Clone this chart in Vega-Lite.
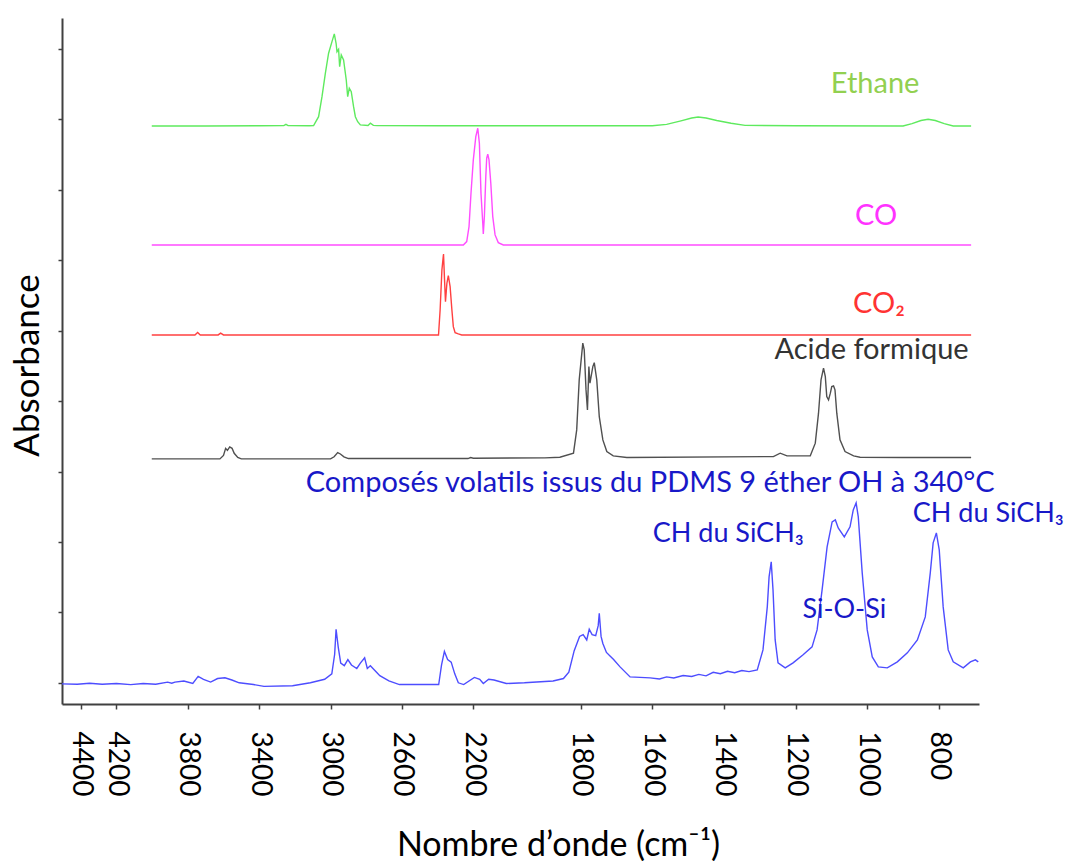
{
  "$schema": "https://vega.github.io/schema/vega-lite/v6.json",
  "width": 917,
  "height": 686,
  "autosize": "none",
  "padding": {"left": 62, "top": 18, "right": 92, "bottom": 157},
  "background": "white",
  "config": {"view": {"stroke": null}, "font": "Lato, 'Noto Sans', sans-serif"},
  "datasets": {
    "spectra": [
      {"s":"Ethane","wn":4002,"a":7.907},{"s":"Ethane","wn":3700,"a":7.907},{"s":"Ethane","wn":3400,"a":7.91},{"s":"Ethane","wn":3262,"a":7.912},{"s":"Ethane","wn":3250,"a":7.93},{"s":"Ethane","wn":3238,"a":7.912},{"s":"Ethane","wn":3120,"a":7.91},{"s":"Ethane","wn":3095,"a":7.912},{"s":"Ethane","wn":3067,"a":8.039},{"s":"Ethane","wn":3048,"a":8.323},{"s":"Ethane","wn":3029,"a":8.656},{"s":"Ethane","wn":3011,"a":8.94},{"s":"Ethane","wn":2992,"a":9.104},{"s":"Ethane","wn":2979,"a":9.214},{"s":"Ethane","wn":2969,"a":9.081},{"s":"Ethane","wn":2964,"a":8.962},{"s":"Ethane","wn":2955,"a":8.996},{"s":"Ethane","wn":2949,"a":8.749},{"s":"Ethane","wn":2940,"a":8.915},{"s":"Ethane","wn":2927,"a":8.844},{"s":"Ethane","wn":2912,"a":8.56},{"s":"Ethane","wn":2904,"a":8.323},{"s":"Ethane","wn":2895,"a":8.443},{"s":"Ethane","wn":2884,"a":8.394},{"s":"Ethane","wn":2871,"a":8.181},{"s":"Ethane","wn":2861,"a":8.039},{"s":"Ethane","wn":2848,"a":7.968},{"s":"Ethane","wn":2833,"a":7.922},{"s":"Ethane","wn":2790,"a":7.915},{"s":"Ethane","wn":2777,"a":7.946},{"s":"Ethane","wn":2760,"a":7.915},{"s":"Ethane","wn":2740,"a":7.912},{"s":"Ethane","wn":2400,"a":7.91},{"s":"Ethane","wn":2000,"a":7.91},{"s":"Ethane","wn":1600,"a":7.91},{"s":"Ethane","wn":1560,"a":7.93},{"s":"Ethane","wn":1520,"a":7.98},{"s":"Ethane","wn":1490,"a":8.02},{"s":"Ethane","wn":1472,"a":8.035},{"s":"Ethane","wn":1450,"a":8.02},{"s":"Ethane","wn":1420,"a":7.985},{"s":"Ethane","wn":1380,"a":7.945},{"s":"Ethane","wn":1341,"a":7.915},{"s":"Ethane","wn":1200,"a":7.91},{"s":"Ethane","wn":900,"a":7.907},{"s":"Ethane","wn":875,"a":7.94},{"s":"Ethane","wn":850,"a":7.985},{"s":"Ethane","wn":830,"a":8.003},{"s":"Ethane","wn":810,"a":7.985},{"s":"Ethane","wn":785,"a":7.94},{"s":"Ethane","wn":760,"a":7.907},{"s":"Ethane","wn":710,"a":7.907},

      {"s":"CO","wn":4002,"a":6.218},{"s":"CO","wn":2256,"a":6.218},{"s":"CO","wn":2237,"a":6.265},{"s":"CO","wn":2224,"a":6.478},{"s":"CO","wn":2213,"a":6.952},{"s":"CO","wn":2200,"a":7.425},{"s":"CO","wn":2186,"a":7.756},{"s":"CO","wn":2175,"a":7.875},{"s":"CO","wn":2166,"a":7.662},{"s":"CO","wn":2157,"a":6.952},{"s":"CO","wn":2147,"a":6.526},{"s":"CO","wn":2144,"a":6.374},{"s":"CO","wn":2138,"a":6.62},{"s":"CO","wn":2130,"a":7.188},{"s":"CO","wn":2125,"a":7.449},{"s":"CO","wn":2119,"a":7.506},{"s":"CO","wn":2112,"a":7.425},{"s":"CO","wn":2102,"a":7.094},{"s":"CO","wn":2091,"a":6.62},{"s":"CO","wn":2078,"a":6.36},{"s":"CO","wn":2060,"a":6.251},{"s":"CO","wn":2032,"a":6.218},{"s":"CO","wn":710,"a":6.218},

      {"s":"CO2","wn":4002,"a":4.94},{"s":"CO2","wn":3760,"a":4.94},{"s":"CO2","wn":3745,"a":4.975},{"s":"CO2","wn":3730,"a":4.94},{"s":"CO2","wn":3630,"a":4.94},{"s":"CO2","wn":3616,"a":4.965},{"s":"CO2","wn":3600,"a":4.94},{"s":"CO2","wn":2395,"a":4.94},{"s":"CO2","wn":2386,"a":5.295},{"s":"CO2","wn":2376,"a":5.863},{"s":"CO2","wn":2367,"a":6.09},{"s":"CO2","wn":2362,"a":5.768},{"s":"CO2","wn":2356,"a":5.413},{"s":"CO2","wn":2348,"a":5.674},{"s":"CO2","wn":2340,"a":5.782},{"s":"CO2","wn":2330,"a":5.626},{"s":"CO2","wn":2320,"a":5.295},{"s":"CO2","wn":2312,"a":5.058},{"s":"CO2","wn":2302,"a":4.973},{"s":"CO2","wn":2284,"a":4.954},{"s":"CO2","wn":2265,"a":4.94},{"s":"CO2","wn":710,"a":4.94},

      {"s":"Formic","wn":4002,"a":3.18},{"s":"Formic","wn":3620,"a":3.18},{"s":"Formic","wn":3600,"a":3.23},{"s":"Formic","wn":3588,"a":3.33},{"s":"Formic","wn":3578,"a":3.3},{"s":"Formic","wn":3565,"a":3.35},{"s":"Formic","wn":3552,"a":3.33},{"s":"Formic","wn":3540,"a":3.26},{"s":"Formic","wn":3520,"a":3.2},{"s":"Formic","wn":3500,"a":3.18},{"s":"Formic","wn":3000,"a":3.18},{"s":"Formic","wn":2980,"a":3.21},{"s":"Formic","wn":2960,"a":3.27},{"s":"Formic","wn":2945,"a":3.25},{"s":"Formic","wn":2925,"a":3.21},{"s":"Formic","wn":2900,"a":3.185},{"s":"Formic","wn":2230,"a":3.185},{"s":"Formic","wn":2215,"a":3.2},{"s":"Formic","wn":2200,"a":3.19},{"s":"Formic","wn":1900,"a":3.195},{"s":"Formic","wn":1858,"a":3.204},{"s":"Formic","wn":1820,"a":3.261},{"s":"Formic","wn":1811,"a":3.592},{"s":"Formic","wn":1804,"a":4.302},{"s":"Formic","wn":1794,"a":4.823},{"s":"Formic","wn":1790,"a":4.727},{"s":"Formic","wn":1785,"a":4.16},{"s":"Formic","wn":1781,"a":3.876},{"s":"Formic","wn":1777,"a":4.49},{"s":"Formic","wn":1774,"a":4.255},{"s":"Formic","wn":1766,"a":4.49},{"s":"Formic","wn":1762,"a":4.547},{"s":"Formic","wn":1755,"a":4.302},{"s":"Formic","wn":1748,"a":3.781},{"s":"Formic","wn":1738,"a":3.45},{"s":"Formic","wn":1727,"a":3.284},{"s":"Formic","wn":1709,"a":3.223},{"s":"Formic","wn":1671,"a":3.199},{"s":"Formic","wn":1262,"a":3.213},{"s":"Formic","wn":1243,"a":3.261},{"s":"Formic","wn":1224,"a":3.223},{"s":"Formic","wn":1159,"a":3.223},{"s":"Formic","wn":1145,"a":3.403},{"s":"Formic","wn":1136,"a":3.829},{"s":"Formic","wn":1129,"a":4.302},{"s":"Formic","wn":1122,"a":4.468},{"s":"Formic","wn":1117,"a":4.348},{"s":"Formic","wn":1113,"a":4.064},{"s":"Formic","wn":1108,"a":4.018},{"s":"Formic","wn":1103,"a":4.113},{"s":"Formic","wn":1099,"a":4.206},{"s":"Formic","wn":1094,"a":4.216},{"s":"Formic","wn":1090,"a":4.16},{"s":"Formic","wn":1085,"a":3.829},{"s":"Formic","wn":1076,"a":3.45},{"s":"Formic","wn":1062,"a":3.284},{"s":"Formic","wn":1038,"a":3.223},{"s":"Formic","wn":1020,"a":3.204},{"s":"Formic","wn":900,"a":3.2},{"s":"Formic","wn":710,"a":3.2},

      {"s":"PDMS","wn":4505,"a":-0.014},{"s":"PDMS","wn":4420,"a":-0.02},{"s":"PDMS","wn":4350,"a":-0.005},{"s":"PDMS","wn":4280,"a":-0.02},{"s":"PDMS","wn":4200,"a":-0.01},{"s":"PDMS","wn":4120,"a":-0.025},{"s":"PDMS","wn":4050,"a":-0.01},{"s":"PDMS","wn":3980,"a":-0.02},{"s":"PDMS","wn":3913,"a":0.011},{"s":"PDMS","wn":3890,"a":-0.005},{"s":"PDMS","wn":3872,"a":0.011},{"s":"PDMS","wn":3822,"a":0.027},{"s":"PDMS","wn":3772,"a":-0.009},{"s":"PDMS","wn":3742,"a":0.092},{"s":"PDMS","wn":3712,"a":0.051},{"s":"PDMS","wn":3672,"a":0.011},{"s":"PDMS","wn":3633,"a":0.062},{"s":"PDMS","wn":3592,"a":0.072},{"s":"PDMS","wn":3553,"a":0.041},{"s":"PDMS","wn":3512,"a":0.001},{"s":"PDMS","wn":3432,"a":-0.024},{"s":"PDMS","wn":3373,"a":-0.05},{"s":"PDMS","wn":3213,"a":-0.04},{"s":"PDMS","wn":3113,"a":0.001},{"s":"PDMS","wn":3033,"a":0.051},{"s":"PDMS","wn":2993,"a":0.128},{"s":"PDMS","wn":2977,"a":0.406},{"s":"PDMS","wn":2969,"a":0.761},{"s":"PDMS","wn":2957,"a":0.508},{"s":"PDMS","wn":2943,"a":0.28},{"s":"PDMS","wn":2923,"a":0.244},{"s":"PDMS","wn":2903,"a":0.331},{"s":"PDMS","wn":2883,"a":0.254},{"s":"PDMS","wn":2853,"a":0.204},{"s":"PDMS","wn":2833,"a":0.28},{"s":"PDMS","wn":2809,"a":0.356},{"s":"PDMS","wn":2794,"a":0.204},{"s":"PDMS","wn":2777,"a":0.244},{"s":"PDMS","wn":2753,"a":0.179},{"s":"PDMS","wn":2724,"a":0.102},{"s":"PDMS","wn":2673,"a":0.027},{"s":"PDMS","wn":2614,"a":-0.024},{"s":"PDMS","wn":2394,"a":-0.024},{"s":"PDMS","wn":2378,"a":0.254},{"s":"PDMS","wn":2362,"a":0.447},{"s":"PDMS","wn":2344,"a":0.331},{"s":"PDMS","wn":2324,"a":0.295},{"s":"PDMS","wn":2304,"a":0.128},{"s":"PDMS","wn":2284,"a":0.001},{"s":"PDMS","wn":2254,"a":-0.024},{"s":"PDMS","wn":2194,"a":0.077},{"s":"PDMS","wn":2164,"a":0.051},{"s":"PDMS","wn":2144,"a":-0.009},{"s":"PDMS","wn":2114,"a":0.051},{"s":"PDMS","wn":2084,"a":0.041},{"s":"PDMS","wn":2015,"a":-0.009},{"s":"PDMS","wn":1957,"a":0.001},{"s":"PDMS","wn":1877,"a":0.027},{"s":"PDMS","wn":1848,"a":0.062},{"s":"PDMS","wn":1833,"a":0.153},{"s":"PDMS","wn":1818,"a":0.457},{"s":"PDMS","wn":1803,"a":0.66},{"s":"PDMS","wn":1793,"a":0.686},{"s":"PDMS","wn":1783,"a":0.609},{"s":"PDMS","wn":1776,"a":0.761},{"s":"PDMS","wn":1768,"a":0.686},{"s":"PDMS","wn":1758,"a":0.67},{"s":"PDMS","wn":1751,"a":0.812},{"s":"PDMS","wn":1748,"a":0.989},{"s":"PDMS","wn":1743,"a":0.66},{"s":"PDMS","wn":1738,"a":0.559},{"s":"PDMS","wn":1728,"a":0.432},{"s":"PDMS","wn":1718,"a":0.382},{"s":"PDMS","wn":1708,"a":0.331},{"s":"PDMS","wn":1690,"a":0.227},{"s":"PDMS","wn":1662,"a":0.085},{"s":"PDMS","wn":1606,"a":0.071},{"s":"PDMS","wn":1580,"a":0.055},{"s":"PDMS","wn":1560,"a":0.085},{"s":"PDMS","wn":1540,"a":0.07},{"s":"PDMS","wn":1514,"a":0.105},{"s":"PDMS","wn":1490,"a":0.09},{"s":"PDMS","wn":1470,"a":0.12},{"s":"PDMS","wn":1450,"a":0.1},{"s":"PDMS","wn":1430,"a":0.15},{"s":"PDMS","wn":1410,"a":0.13},{"s":"PDMS","wn":1390,"a":0.165},{"s":"PDMS","wn":1370,"a":0.145},{"s":"PDMS","wn":1350,"a":0.175},{"s":"PDMS","wn":1330,"a":0.16},{"s":"PDMS","wn":1307,"a":0.185},{"s":"PDMS","wn":1291,"a":0.468},{"s":"PDMS","wn":1279,"a":1.079},{"s":"PDMS","wn":1274,"a":1.505},{"s":"PDMS","wn":1268,"a":1.718},{"s":"PDMS","wn":1263,"a":1.32},{"s":"PDMS","wn":1257,"a":0.61},{"s":"PDMS","wn":1249,"a":0.284},{"s":"PDMS","wn":1229,"a":0.213},{"s":"PDMS","wn":1207,"a":0.284},{"s":"PDMS","wn":1179,"a":0.398},{"s":"PDMS","wn":1154,"a":0.511},{"s":"PDMS","wn":1140,"a":0.752},{"s":"PDMS","wn":1126,"a":1.32},{"s":"PDMS","wn":1112,"a":1.931},{"s":"PDMS","wn":1098,"a":2.286},{"s":"PDMS","wn":1089,"a":2.314},{"s":"PDMS","wn":1081,"a":2.2},{"s":"PDMS","wn":1064,"a":2.073},{"s":"PDMS","wn":1048,"a":2.215},{"s":"PDMS","wn":1039,"a":2.456},{"s":"PDMS","wn":1031,"a":2.555},{"s":"PDMS","wn":1025,"a":2.357},{"s":"PDMS","wn":1014,"a":1.562},{"s":"PDMS","wn":1000,"a":0.752},{"s":"PDMS","wn":986,"a":0.369},{"s":"PDMS","wn":969,"a":0.227},{"s":"PDMS","wn":944,"a":0.213},{"s":"PDMS","wn":916,"a":0.298},{"s":"PDMS","wn":888,"a":0.426},{"s":"PDMS","wn":860,"a":0.61},{"s":"PDMS","wn":838,"a":0.937},{"s":"PDMS","wn":824,"a":1.562},{"s":"PDMS","wn":816,"a":1.988},{"s":"PDMS","wn":807,"a":2.129},{"s":"PDMS","wn":799,"a":1.888},{"s":"PDMS","wn":788,"a":1.079},{"s":"PDMS","wn":774,"a":0.468},{"s":"PDMS","wn":760,"a":0.298},{"s":"PDMS","wn":732,"a":0.213},{"s":"PDMS","wn":712,"a":0.298},{"s":"PDMS","wn":698,"a":0.327},{"s":"PDMS","wn":690,"a":0.298}
    ],
    "labels": [
      {"label":"Ethane","g":"ethane","kind":"main","wn":978,"a":8.376},
      {"label":"CO","g":"co","kind":"main","wn":975,"a":6.502},
      {"label":"CO₂","g":"co2","kind":"main","wn":967,"a":5.253},
      {"label":"Acide formique","g":"formic","kind":"main","wn":988,"a":4.6},
      {"label":"Composés volatils issus du PDMS 9 éther OH à 340°C","g":"pdms","kind":"main","wn":1606,"a":2.711},
      {"label":"CH du SiCH₃","g":"pdms","kind":"peak","wn":1388,"a":2.006},
      {"label":"Si-O-Si","g":"pdms","kind":"peak","wn":1064,"a":0.923},
      {"label":"CH du SiCH₃","g":"pdms","kind":"peak","wn":662,"a":2.29}
    ]
  },
  "layer": [
    {
      "data": {"name": "spectra"},
      "mark": {"type": "line", "strokeWidth": 1.4, "clip": false},
      "encoding": {
        "x": {
          "field": "wn", "type": "quantitative",
          "scale": {"domain": [4505, 2000, 688], "range": [0, 447, 917], "nice": false, "zero": false},
          "axis": {
            "values": [4400, 4200, 3800, 3400, 3000, 2600, 2200, 1800, 1600, 1400, 1200, 1000, 800],
            "format": "d", "labelAngle": 90, "labelAlign": "left", "labelBaseline": "middle",
            "labelFontSize": 28, "labelColor": "#000000", "labelPadding": 22, "labelFlush": false, "labelOverlap": false,
            "tickSize": 5, "tickColor": "#404040", "tickWidth": 1.5,
            "domainColor": "#404040", "domainWidth": 1.8, "grid": false,
            "title": "Nombre d’onde (cm⁻¹)", "titleFontSize": 34, "titleFontWeight": "normal", "titleColor": "#000000",
            "titleX": 496, "titleY": 151, "titleAlign": "center", "titleBaseline": "alphabetic", "titleAnchor": null
          }
        },
        "y": {
          "field": "a", "type": "quantitative",
          "scale": {"domain": [-0.3, 9.44], "nice": false, "zero": false},
          "axis": {
            "values": [0, 1, 2, 3, 4, 5, 6, 7, 8, 9], "labels": false, "grid": false,
            "tickSize": 4, "tickColor": "#404040", "tickWidth": 1.5,
            "domainColor": "#404040", "domainWidth": 2,
            "title": "Absorbance", "titleFontSize": 35, "titleFontWeight": "normal", "titleColor": "#000000",
            "titleAngle": 270, "titleX": -24, "titleY": 347, "titleAlign": "center", "titleBaseline": "alphabetic", "titleAnchor": null
          }
        },
        "color": {
          "field": "s", "type": "nominal",
          "scale": {"domain": ["Ethane", "CO", "CO2", "Formic", "PDMS"], "range": ["#5eea5e", "#ff4dff", "#ff4040", "#505050", "#4d4dff"]},
          "legend": null
        }
      }
    },
    {
      "data": {"name": "labels"},
      "transform": [{"filter": "datum.kind === 'main'"}],
      "mark": {"type": "text", "fontSize": 29, "align": "center", "baseline": "alphabetic", "clip": false},
      "encoding": {
        "x": {"field": "wn", "type": "quantitative"},
        "y": {"field": "a", "type": "quantitative"},
        "text": {"field": "label"},
        "color": {
          "field": "g", "type": "nominal",
          "scale": {"domain": ["ethane", "co", "co2", "formic", "pdms"], "range": ["#92d050", "#ff33ff", "#ff3333", "#333333", "#1818c8"]},
          "legend": null
        }
      }
    },
    {
      "data": {"name": "labels"},
      "transform": [{"filter": "datum.kind === 'peak'"}],
      "mark": {"type": "text", "fontSize": 27, "align": "center", "baseline": "alphabetic", "clip": false, "color": "#1818c8"},
      "encoding": {
        "x": {"field": "wn", "type": "quantitative"},
        "y": {"field": "a", "type": "quantitative"},
        "text": {"field": "label"}
      }
    }
  ],
  "resolve": {"scale": {"color": "independent"}}
}
